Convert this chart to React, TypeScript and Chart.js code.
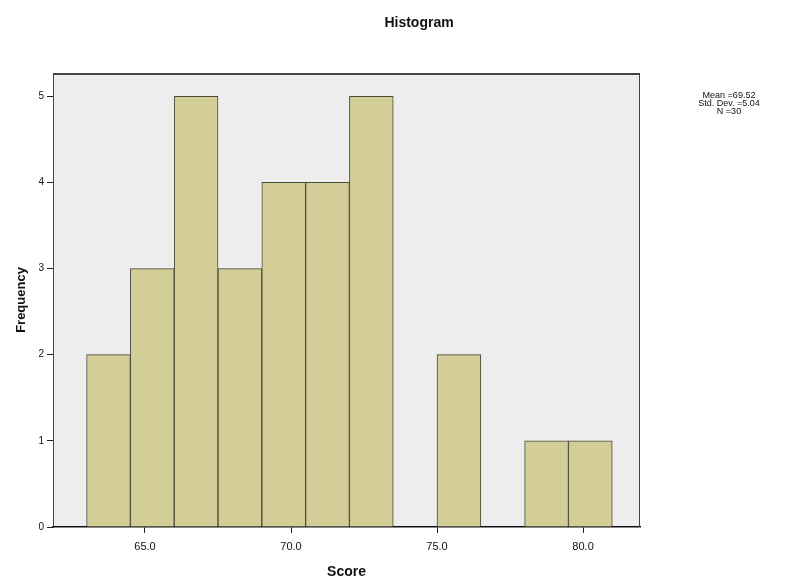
import React, { useEffect, useRef } from "react";
import { Chart, registerables } from "chart.js";

Chart.register(...registerables);

const binStarts = [63.0, 64.5, 66.0, 67.5, 69.0, 70.5, 72.0, 73.5, 75.0, 76.5, 78.0, 79.5];
const binWidth = 1.5;
const counts = [2, 3, 5, 3, 4, 4, 5, 0, 2, 0, 1, 1];
const xTicks = [65, 70, 75, 80];
const yTicks = [0, 1, 2, 3, 4, 5];
const statsLines = ["Mean =69.52", "Std. Dev. =5.04", "N =30"];
const titleText = "Histogram";
const xTitle = "Score";
const yTitle = "Frequency";

const FONT = "'Liberation Sans', Arial, sans-serif";

const frameAndText = {
  id: "frameAndText",
  beforeDraw(chart: any) {
    const { ctx, chartArea: a } = chart;
    ctx.save();
    ctx.fillStyle = "#ffffff";
    ctx.fillRect(0, 0, chart.width, chart.height);
    ctx.fillStyle = "#ededed";
    ctx.fillRect(a.left, a.top, a.right - a.left, a.bottom - a.top);
    ctx.restore();
  },
  afterDraw(chart: any) {
    const { ctx, chartArea: a } = chart;
    ctx.save();
    ctx.strokeStyle = "#444444";
    ctx.lineWidth = 1;
    ctx.beginPath();
    ctx.moveTo(a.left + 0.5, a.bottom);
    ctx.lineTo(a.left + 0.5, a.top);
    ctx.moveTo(a.right - 0.5, a.top);
    ctx.lineTo(a.right - 0.5, a.bottom);
    ctx.stroke();
    ctx.lineWidth = 2;
    ctx.beginPath();
    ctx.moveTo(a.left, a.top + 1);
    ctx.lineTo(a.right, a.top + 1);
    ctx.stroke();
    ctx.fillStyle = "#111111";
    ctx.textAlign = "center";
    ctx.textBaseline = "middle";
    ctx.font = `bold 14px ${FONT}`;
    ctx.fillText(titleText, 419, 23);
    ctx.font = `9px ${FONT}`;
    statsLines.forEach((s, i) => ctx.fillText(s, 729, 96 + i * 8));
    ctx.restore();
  },
};

export default function App() {
  const ref = useRef<HTMLCanvasElement | null>(null);
  useEffect(() => {
    document.body.style.margin = "0";
    const data = binStarts
      .map((s, i) => ({ x: s + binWidth / 2, y: counts[i] }))
      .filter((d) => d.y > 0);
    const chart = new Chart(ref.current as HTMLCanvasElement, {
      type: "bar",
      data: {
        datasets: [
          {
            data: data as any,
            backgroundColor: "#d3ce98",
            borderColor: "#4a4838",
            borderWidth: 1,
            barPercentage: 1,
            categoryPercentage: 1,
          },
        ],
      },
      options: {
        animation: false,
        responsive: false,
        layout: { padding: { left: 10, right: 160, top: 73, bottom: 0 } },
        plugins: { legend: { display: false }, tooltip: { enabled: false }, title: { display: false } },
        scales: {
          x: {
            type: "linear",
            min: 61.85,
            max: 81.95,
            offset: false,
            afterBuildTicks: (s: any) => {
              s.ticks = xTicks.map((v) => ({ value: v }));
            },
            afterFit: (s: any) => {
              s.height = 58;
            },
            ticks: {
              callback: (v: any) => Number(v).toFixed(1),
              color: "#111",
              font: { family: FONT, size: 11 },
              padding: 7,
              maxRotation: 0,
            },
            grid: { display: true, offset: false, drawOnChartArea: false, drawTicks: true, tickLength: 6, color: "#222" },
            border: { display: true, color: "#111", width: 1.5 },
            title: { display: true, text: xTitle, color: "#111", font: { family: FONT, size: 14, weight: "bold" }, padding: { top: 9 } },
          },
          y: {
            min: 0,
            max: 5.27,
            afterBuildTicks: (s: any) => {
              s.ticks = yTicks.map((v) => ({ value: v }));
            },
            afterFit: (s: any) => {
              s.width = 43;
            },
            ticks: { color: "#111", font: { family: FONT, size: 10 }, padding: 3, includeBounds: false },
            grid: { display: true, offset: false, drawOnChartArea: false, drawTicks: true, tickLength: 6, color: "#222" },
            border: { display: true, color: "#444", width: 1 },
            title: { display: true, text: yTitle, color: "#111", font: { family: FONT, size: 13, weight: "bold" }, padding: { bottom: 2 } },
          },
        },
      },
      plugins: [frameAndText],
    });
    return () => chart.destroy();
  }, []);
  return (
    <div style={{ position: "absolute", left: 0, top: 0, width: 800, height: 585 }}>
      <canvas ref={ref} width={800} height={585} style={{ display: "block" }} />
    </div>
  );
}
